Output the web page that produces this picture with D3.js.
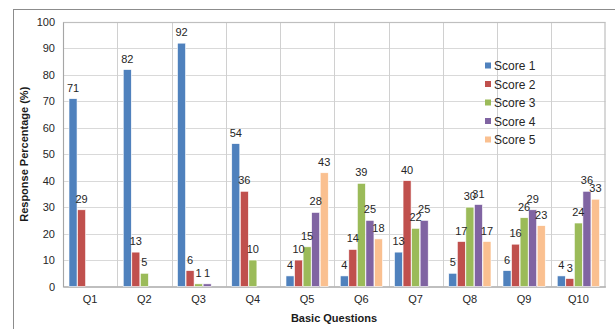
<!DOCTYPE html>
<html>
<head>
<meta charset="utf-8">
<script src="https://cdn.jsdelivr.net/npm/d3@7/dist/d3.min.js"></script>
<style>
  html, body { margin: 0; padding: 0; background: #fff; }
  svg { display: block; font-family: Arial, "Liberation Sans", sans-serif; }
</style>
</head>
<body>
<svg id="chart" width="615" height="329"></svg>
<script>
// Question categories and the five score series (response %)
const questions = ["Q1", "Q2", "Q3", "Q4", "Q5", "Q6", "Q7", "Q8", "Q9", "Q10"];
const seriesNames = ["Score 1", "Score 2", "Score 3", "Score 4", "Score 5"];
const score1 = [71, 82, 92, 54, 4, 4, 13, 5, 6, 4];
const score2 = [29, 13, 6, 36, 10, 14, 40, 17, 16, 3];
const score3 = [0, 5, 1, 10, 15, 39, 22, 30, 26, 24];
const score4 = [0, 0, 1, 0, 28, 25, 25, 31, 29, 36];
const score5 = [0, 0, 0, 0, 43, 18, 0, 17, 23, 33];
const yTicks = [0, 10, 20, 30, 40, 50, 60, 70, 80, 90, 100];
const colors = ["#4F81BD", "#C0504D", "#9BBB59", "#8064A2", "#FAC090"];

const seriesValues = [score1, score2, score3, score4, score5];

const svg = d3.select("#chart");

// Outer chart frame
svg.append("rect")
  .attr("x", 13.5).attr("y", 9.5)
  .attr("width", 700).attr("height", 400)
  .attr("fill", "none").attr("stroke", "#8c8c8c").attr("stroke-width", 1);

const plot = { left: 63, top: 22, right: 605.5, bottom: 286.5 };

const x0 = d3.scaleBand().domain(questions).range([plot.left, plot.right]).padding(0);
const x1 = d3.scaleBand().domain(seriesNames)
  .range([6, x0.bandwidth() - 6]).paddingInner(0.06).paddingOuter(0);
const y = d3.scaleLinear().domain([0, 100]).range([plot.bottom, plot.top]);

// Horizontal gridlines
svg.append("g").selectAll("line").data(yTicks.filter(t => t > 0)).join("line")
  .attr("x1", plot.left).attr("x2", plot.right)
  .attr("y1", d => Math.round(y(d)) + 0.5).attr("y2", d => Math.round(y(d)) + 0.5)
  .attr("stroke", "#d9d9d9").attr("stroke-width", 1);

// Vertical gridlines at category boundaries
svg.append("g").selectAll("line").data(questions.slice(1)).join("line")
  .attr("x1", d => Math.round(x0(d)) + 0.5).attr("x2", d => Math.round(x0(d)) + 0.5)
  .attr("y1", plot.top).attr("y2", plot.bottom)
  .attr("stroke", "#d0d0d0").attr("stroke-width", 1);

// Plot area border
svg.append("rect")
  .attr("x", plot.left + 0.5).attr("y", plot.top + 0.5)
  .attr("width", plot.right - plot.left - 1).attr("height", plot.bottom - plot.top)
  .attr("fill", "none").attr("stroke", "#bfbfbf").attr("stroke-width", 1.2);

// Y axis
const yAxis = d3.axisLeft(y).tickValues(yTicks).tickSize(0).tickPadding(8);
const gy = svg.append("g").attr("transform", `translate(${plot.left},0)`).call(yAxis);
gy.select(".domain").attr("stroke", "#a6a6a6");
gy.selectAll("text").attr("font-size", 11).attr("fill", "#262626")
  .attr("font-family", "Arial, 'Liberation Sans', sans-serif");

// X axis
const xAxis = d3.axisBottom(x0).tickSize(0).tickPadding(9);
const gx = svg.append("g").attr("transform", `translate(0,${plot.bottom})`).call(xAxis);
gx.select(".domain").attr("stroke", "#a6a6a6");
gx.selectAll("text").attr("font-size", 11).attr("fill", "#262626")
  .attr("font-family", "Arial, 'Liberation Sans', sans-serif");

// Bars
const barData = [];
questions.forEach((q, i) => {
  seriesNames.forEach((s, j) => {
    barData.push({ q, s, v: seriesValues[j][i], c: colors[j] });
  });
});

const bars = svg.append("g");
bars.selectAll("rect").data(barData.filter(d => d.v > 0)).join("rect")
  .attr("x", d => x0(d.q) + x1(d.s))
  .attr("y", d => y(d.v))
  .attr("width", x1.bandwidth())
  .attr("height", d => y(0) - y(d.v))
  .attr("fill", d => d.c)
  .attr("stroke", "#ffffff").attr("stroke-width", 0.6);

// Value labels above bars
svg.append("g").selectAll("text").data(barData.filter(d => d.v > 0)).join("text")
  .attr("x", d => x0(d.q) + x1(d.s) + x1.bandwidth() / 2)
  .attr("y", d => y(d.v) - 7)
  .attr("text-anchor", "middle")
  .attr("font-size", 11).attr("fill", "#262626")
  .text(d => d.v);

// Axis titles
svg.append("text")
  .attr("x", 334).attr("y", 322)
  .attr("text-anchor", "middle").attr("font-size", 11).attr("font-weight", "bold")
  .attr("fill", "#1a1a1a")
  .text("Basic Questions");

svg.append("text")
  .attr("transform", `translate(28,${(plot.top + plot.bottom) / 2}) rotate(-90)`)
  .attr("text-anchor", "middle").attr("font-size", 11).attr("font-weight", "bold")
  .attr("fill", "#1a1a1a")
  .text("Response Percentage (%)");

// Legend
const legend = svg.append("g").attr("transform", "translate(485,66)");
const items = legend.selectAll("g").data(seriesNames).join("g")
  .attr("transform", (d, i) => `translate(0,${i * 18.5})`);
items.append("rect")
  .attr("x", 0).attr("y", -3.5).attr("width", 6).attr("height", 6)
  .attr("fill", (d, i) => colors[i]);
items.append("text")
  .attr("x", 9).attr("y", 0).attr("dy", "0.35em")
  .attr("font-size", 12).attr("fill", "#262626")
  .text(d => d);
</script>
</body>
</html>
